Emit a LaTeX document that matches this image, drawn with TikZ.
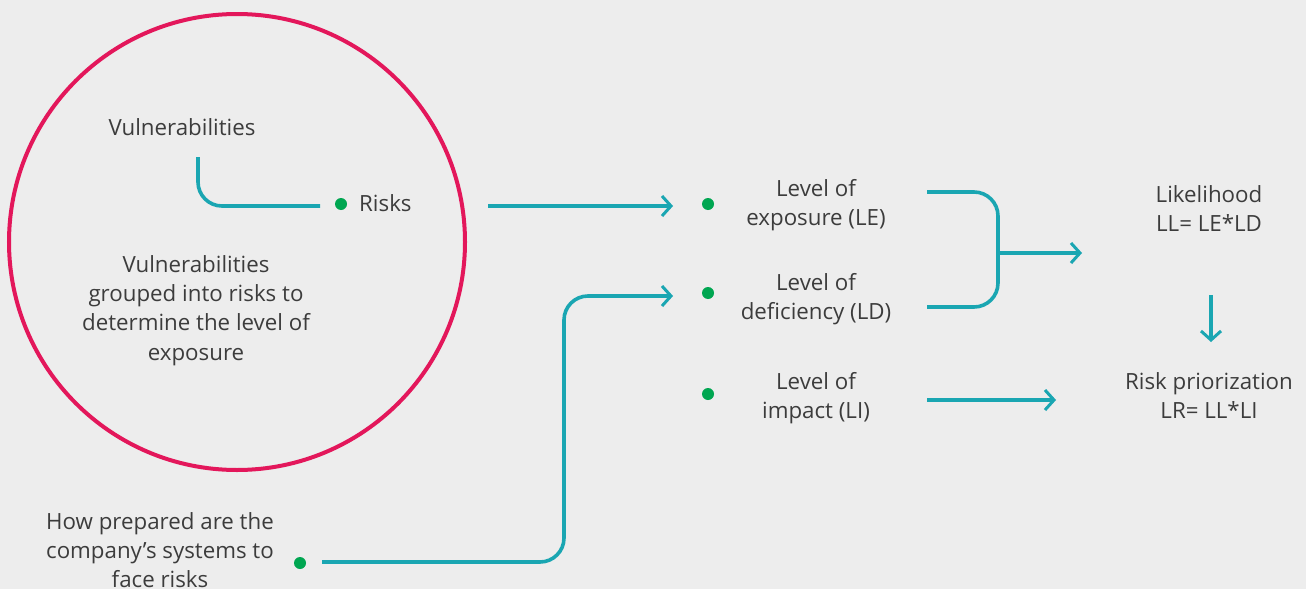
\documentclass[tikz,border=0pt]{standalone}
\usepackage{fontspec}
\setmainfont{Open Sans}
\usetikzlibrary{arrows.meta}
\definecolor{bg}{HTML}{EDEDED}
\definecolor{teal}{HTML}{1AA6B2}
\definecolor{pinkc}{HTML}{E3175B}
\definecolor{dotg}{HTML}{00A651}
\definecolor{txt}{HTML}{3C3C3C}
\begin{document}
\begin{tikzpicture}[x=1pt,y=-1pt,
  lbl/.style={text=txt,align=center,font=\fontsize{22.3}{29}\selectfont,inner sep=0pt},
  conn/.style={draw=teal,line width=3.6pt},
  arr/.style={conn,-{Straight Barb[length=9pt,width=20pt,line width=3pt]}},
  gdot/.style={circle,fill=dotg,minimum size=12pt,inner sep=0pt}]
\fill[bg] (0,0) rectangle (1306,589);
\useasboundingbox (0,0) rectangle (1306,589);
% circle
\draw[pinkc,line width=4pt] (237,242) circle[radius=228];
\node[lbl] (vuln) at (182,127) {Vulnerabilities};
\node[lbl,font=\fontsize{22.3}{29.3}\selectfont] (group) at (196,310.5) {Vulnerabilities\\grouped into risks to\\determine the level of\\exposure};
\node[gdot] (drisk) at (341,204) {};
\node[lbl,anchor=west] (risks) at (359,203) {Risks};
\coordinate (v1) at (198,157);
\coordinate (v2) at (320,206);
\draw[conn,rounded corners=24pt] (v1) |- (v2);
% level nodes
\node[gdot] (dLE) at (708,204) {};
\node[gdot] (dLD) at (708,293) {};
\node[gdot] (dLI) at (708,394) {};
\node[lbl] (LE) at (816,205) {Level of\\exposure (LE)};
\node[lbl] (LD) at (816,299.5) {Level of\\deficiency (LD)};
\node[lbl] (LI) at (816,398) {Level of\\impact (LI)};
\coordinate (r1) at (488,206);
\coordinate (r2) at (673,206);
\draw[arr] (r1) -- (r2);
% bracket
\coordinate (b1) at (927,192);
\coordinate (b2) at (998,249);
\coordinate (b3) at (927,307);
\draw[conn,rounded corners=24pt] (b1) -| (b2) |- (b3);
\coordinate (bm) at (998,253);
\coordinate (bm2) at (1082,253);
\draw[arr] (bm) -- (bm2);
\node[lbl] (LL) at (1209,208.5) {Likelihood\\LL= LE*LD};
\node[lbl] (LR) at (1209,396) {Risk priorization\\LR= LL*LI};
\coordinate (d1) at (1211,295);
\coordinate (d2) at (1211,342);
\draw[arr] (d1) -- (d2);
\coordinate (i1) at (927,400);
\coordinate (i2) at (1056,400);
\draw[arr] (i1) -- (i2);
% bottom
\node[lbl] (prep) at (160,550) {How prepared are the\\company’s systems to\\face risks};
\node[gdot] (dprep) at (300,563) {};
\coordinate (p1) at (322,562);
\coordinate (p2) at (564,430);
\coordinate (p3) at (673,296);
\draw[arr,rounded corners=24pt] (p1) -| (p2) |- (p3);
\end{tikzpicture}
\end{document}
